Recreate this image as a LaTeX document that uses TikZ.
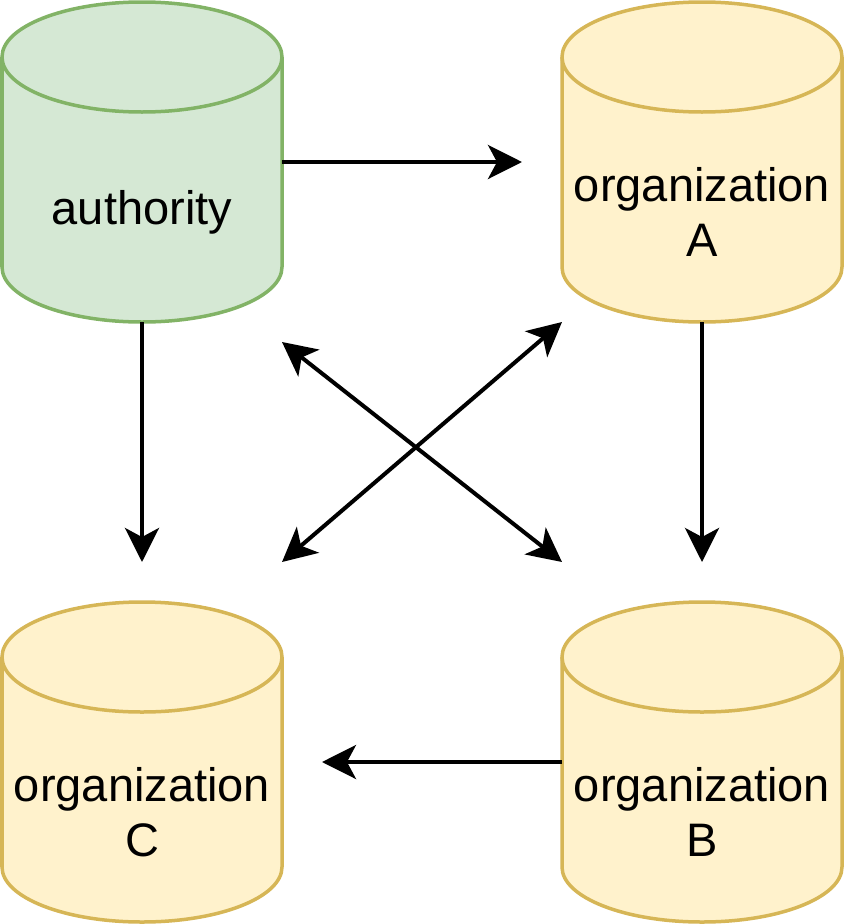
\documentclass[tikz,border=0pt]{standalone}
\usepackage{fontspec}
\setmainfont{Liberation Sans}
\usetikzlibrary{arrows.meta}
\definecolor{gfill}{HTML}{D5E8D4}
\definecolor{gdraw}{HTML}{82B366}
\definecolor{yfill}{HTML}{FFF2CC}
\definecolor{ydraw}{HTML}{D6B656}
\newcommand{\mycyl}[3]{%
  \draw[#3] (#1,-#2-55) -- (#1,-#2-265) arc[start angle=180,end angle=360,x radius=140pt,y radius=55pt] -- (#1+280,-#2-55) arc[start angle=0,end angle=180,x radius=140pt,y radius=55pt] -- cycle;
  \draw[#3,fill=none] (#1,-#2-55) arc[start angle=180,end angle=360,x radius=140pt,y radius=55pt];
}
\tikzset{
  green cyl/.style={draw=gdraw,fill=gfill,line width=3.5pt},
  yellow cyl/.style={draw=ydraw,fill=yfill,line width=3.5pt},
  cylbox/.style={minimum width=280pt,minimum height=320pt,inner sep=0pt,outer sep=0pt},
  txt/.style={align=center,font=\fontsize{47}{55}\selectfont,inner sep=0pt},
  tip/.style={Stealth[length=34pt,width=34pt,inset=9pt]},
  arr/.style={line width=4pt,-{Stealth[length=34pt,width=34pt,inset=9pt]}},
  darr/.style={line width=4pt,{Stealth[length=34pt,width=34pt,inset=9pt]}-{Stealth[length=34pt,width=34pt,inset=9pt]}}
}
\begin{document}
\begin{tikzpicture}[x=1pt,y=1pt]
\useasboundingbox (0,0) rectangle (844,-924);
\mycyl{2}{2}{green cyl}
\mycyl{562}{2}{yellow cyl}
\mycyl{2}{602}{yellow cyl}
\mycyl{562}{602}{yellow cyl}
\node[cylbox] (auth) at (142,-162) {};
\node[cylbox] (orgA) at (702,-162) {};
\node[cylbox] (orgC) at (142,-762) {};
\node[cylbox] (orgB) at (702,-762) {};
\node[txt] (tauth) at (142,-212) {authority};
\node[txt] (tA) at (702,-212) {organization\\A};
\node[txt] (tC) at (142,-812) {organization\\C};
\node[txt] (tB) at (702,-812) {organization\\B};
\draw[arr] (auth.east) -- ([xshift=-40pt]orgA.west);
\draw[arr] (auth.south) -- ([yshift=40pt]orgC.north);
\draw[arr] (orgA.south) -- ([yshift=40pt]orgB.north);
\draw[arr] (orgB.west) -- ([xshift=40pt]orgC.east);
\draw[darr] ([yshift=-20pt]auth.south east) -- ([yshift=40pt]orgB.north west);
\draw[darr] (orgA.south west) -- ([yshift=40pt]orgC.north east);
\end{tikzpicture}
\end{document}
